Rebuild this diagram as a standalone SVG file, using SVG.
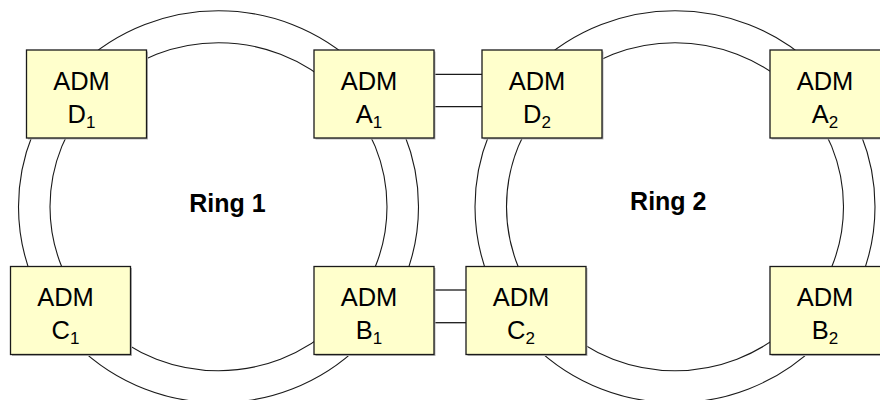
<svg xmlns="http://www.w3.org/2000/svg" width="880" height="400" viewBox="0 0 880 400">
<style>
.ring{fill:none;stroke:#1a1a1a;stroke-width:1.1}
.link{stroke:#1a1a1a;stroke-width:1.3}
.box{fill:#ffffcc;stroke:#1a1a1a;stroke-width:1.3}
.shadow{fill:#b8b8b8}
.t{font-family:"Liberation Sans",Arial,sans-serif;font-size:25.5px;fill:#000;text-anchor:middle}
.sub{font-size:17px}
.lbl{font-family:"Liberation Sans",Arial,sans-serif;font-size:25px;font-weight:bold;fill:#000;text-anchor:middle}
</style>
<rect width="880" height="400" fill="#fff"/>
<g id="rings">
<ellipse class="ring" cx="218.5" cy="206.7" rx="200" ry="196"/>
<ellipse class="ring" cx="218.5" cy="206.7" rx="168.5" ry="164"/>
<ellipse class="ring" cx="675" cy="206.7" rx="200" ry="196"/>
<ellipse class="ring" cx="675" cy="206.7" rx="168.5" ry="164"/>
</g>
<g id="connectors">
<line class="link" x1="434" y1="74.3" x2="482" y2="74.3"/>
<line class="link" x1="434" y1="106.7" x2="482" y2="106.7"/>
<line class="link" x1="434" y1="290" x2="466" y2="290"/>
<line class="link" x1="434" y1="322.7" x2="466" y2="322.7"/>
</g>
<g id="labels">
<text class="lbl" x="227.5" y="211.7">Ring 1</text>
<text class="lbl" x="668.3" y="209.8">Ring 2</text>
</g>
<g id="D1">
<rect class="shadow" x="28" y="51.5" width="120" height="88"/>
<rect class="box" x="26.5" y="50" width="120" height="88"/>
<text class="t" x="81.5" y="90">ADM</text>
<text class="t" x="81.5" y="122.7">D<tspan class="sub" dy="5.5">1</tspan></text>
</g>
<g id="A1">
<rect class="shadow" x="315.5" y="51.5" width="120" height="88"/>
<rect class="box" x="314" y="50" width="120" height="88"/>
<text class="t" x="369" y="90">ADM</text>
<text class="t" x="369" y="122.7">A<tspan class="sub" dy="5.5">1</tspan></text>
</g>
<g id="D2">
<rect class="shadow" x="483.5" y="51.5" width="120" height="88"/>
<rect class="box" x="482" y="50" width="120" height="88"/>
<text class="t" x="537" y="90">ADM</text>
<text class="t" x="537" y="122.7">D<tspan class="sub" dy="5.5">2</tspan></text>
</g>
<g id="A2">
<rect class="shadow" x="771.5" y="51.5" width="120" height="88"/>
<rect class="box" x="770" y="50" width="120" height="88"/>
<text class="t" x="825" y="90">ADM</text>
<text class="t" x="825" y="122.7">A<tspan class="sub" dy="5.5">2</tspan></text>
</g>
<g id="C1">
<rect class="shadow" x="12" y="268" width="120" height="88"/>
<rect class="box" x="10.5" y="266.5" width="120" height="88"/>
<text class="t" x="65.5" y="306">ADM</text>
<text class="t" x="65.5" y="338.5">C<tspan class="sub" dy="5.5">1</tspan></text>
</g>
<g id="B1">
<rect class="shadow" x="315.5" y="268" width="120" height="88"/>
<rect class="box" x="314" y="266.5" width="120" height="88"/>
<text class="t" x="369" y="306">ADM</text>
<text class="t" x="369" y="338.5">B<tspan class="sub" dy="5.5">1</tspan></text>
</g>
<g id="C2">
<rect class="shadow" x="467.5" y="268" width="120" height="88"/>
<rect class="box" x="466" y="266.5" width="120" height="88"/>
<text class="t" x="521" y="306">ADM</text>
<text class="t" x="521" y="338.5">C<tspan class="sub" dy="5.5">2</tspan></text>
</g>
<g id="B2">
<rect class="shadow" x="771.5" y="268" width="120" height="88"/>
<rect class="box" x="770" y="266.5" width="120" height="88"/>
<text class="t" x="825" y="306">ADM</text>
<text class="t" x="825" y="338.5">B<tspan class="sub" dy="5.5">2</tspan></text>
</g>
</svg>
